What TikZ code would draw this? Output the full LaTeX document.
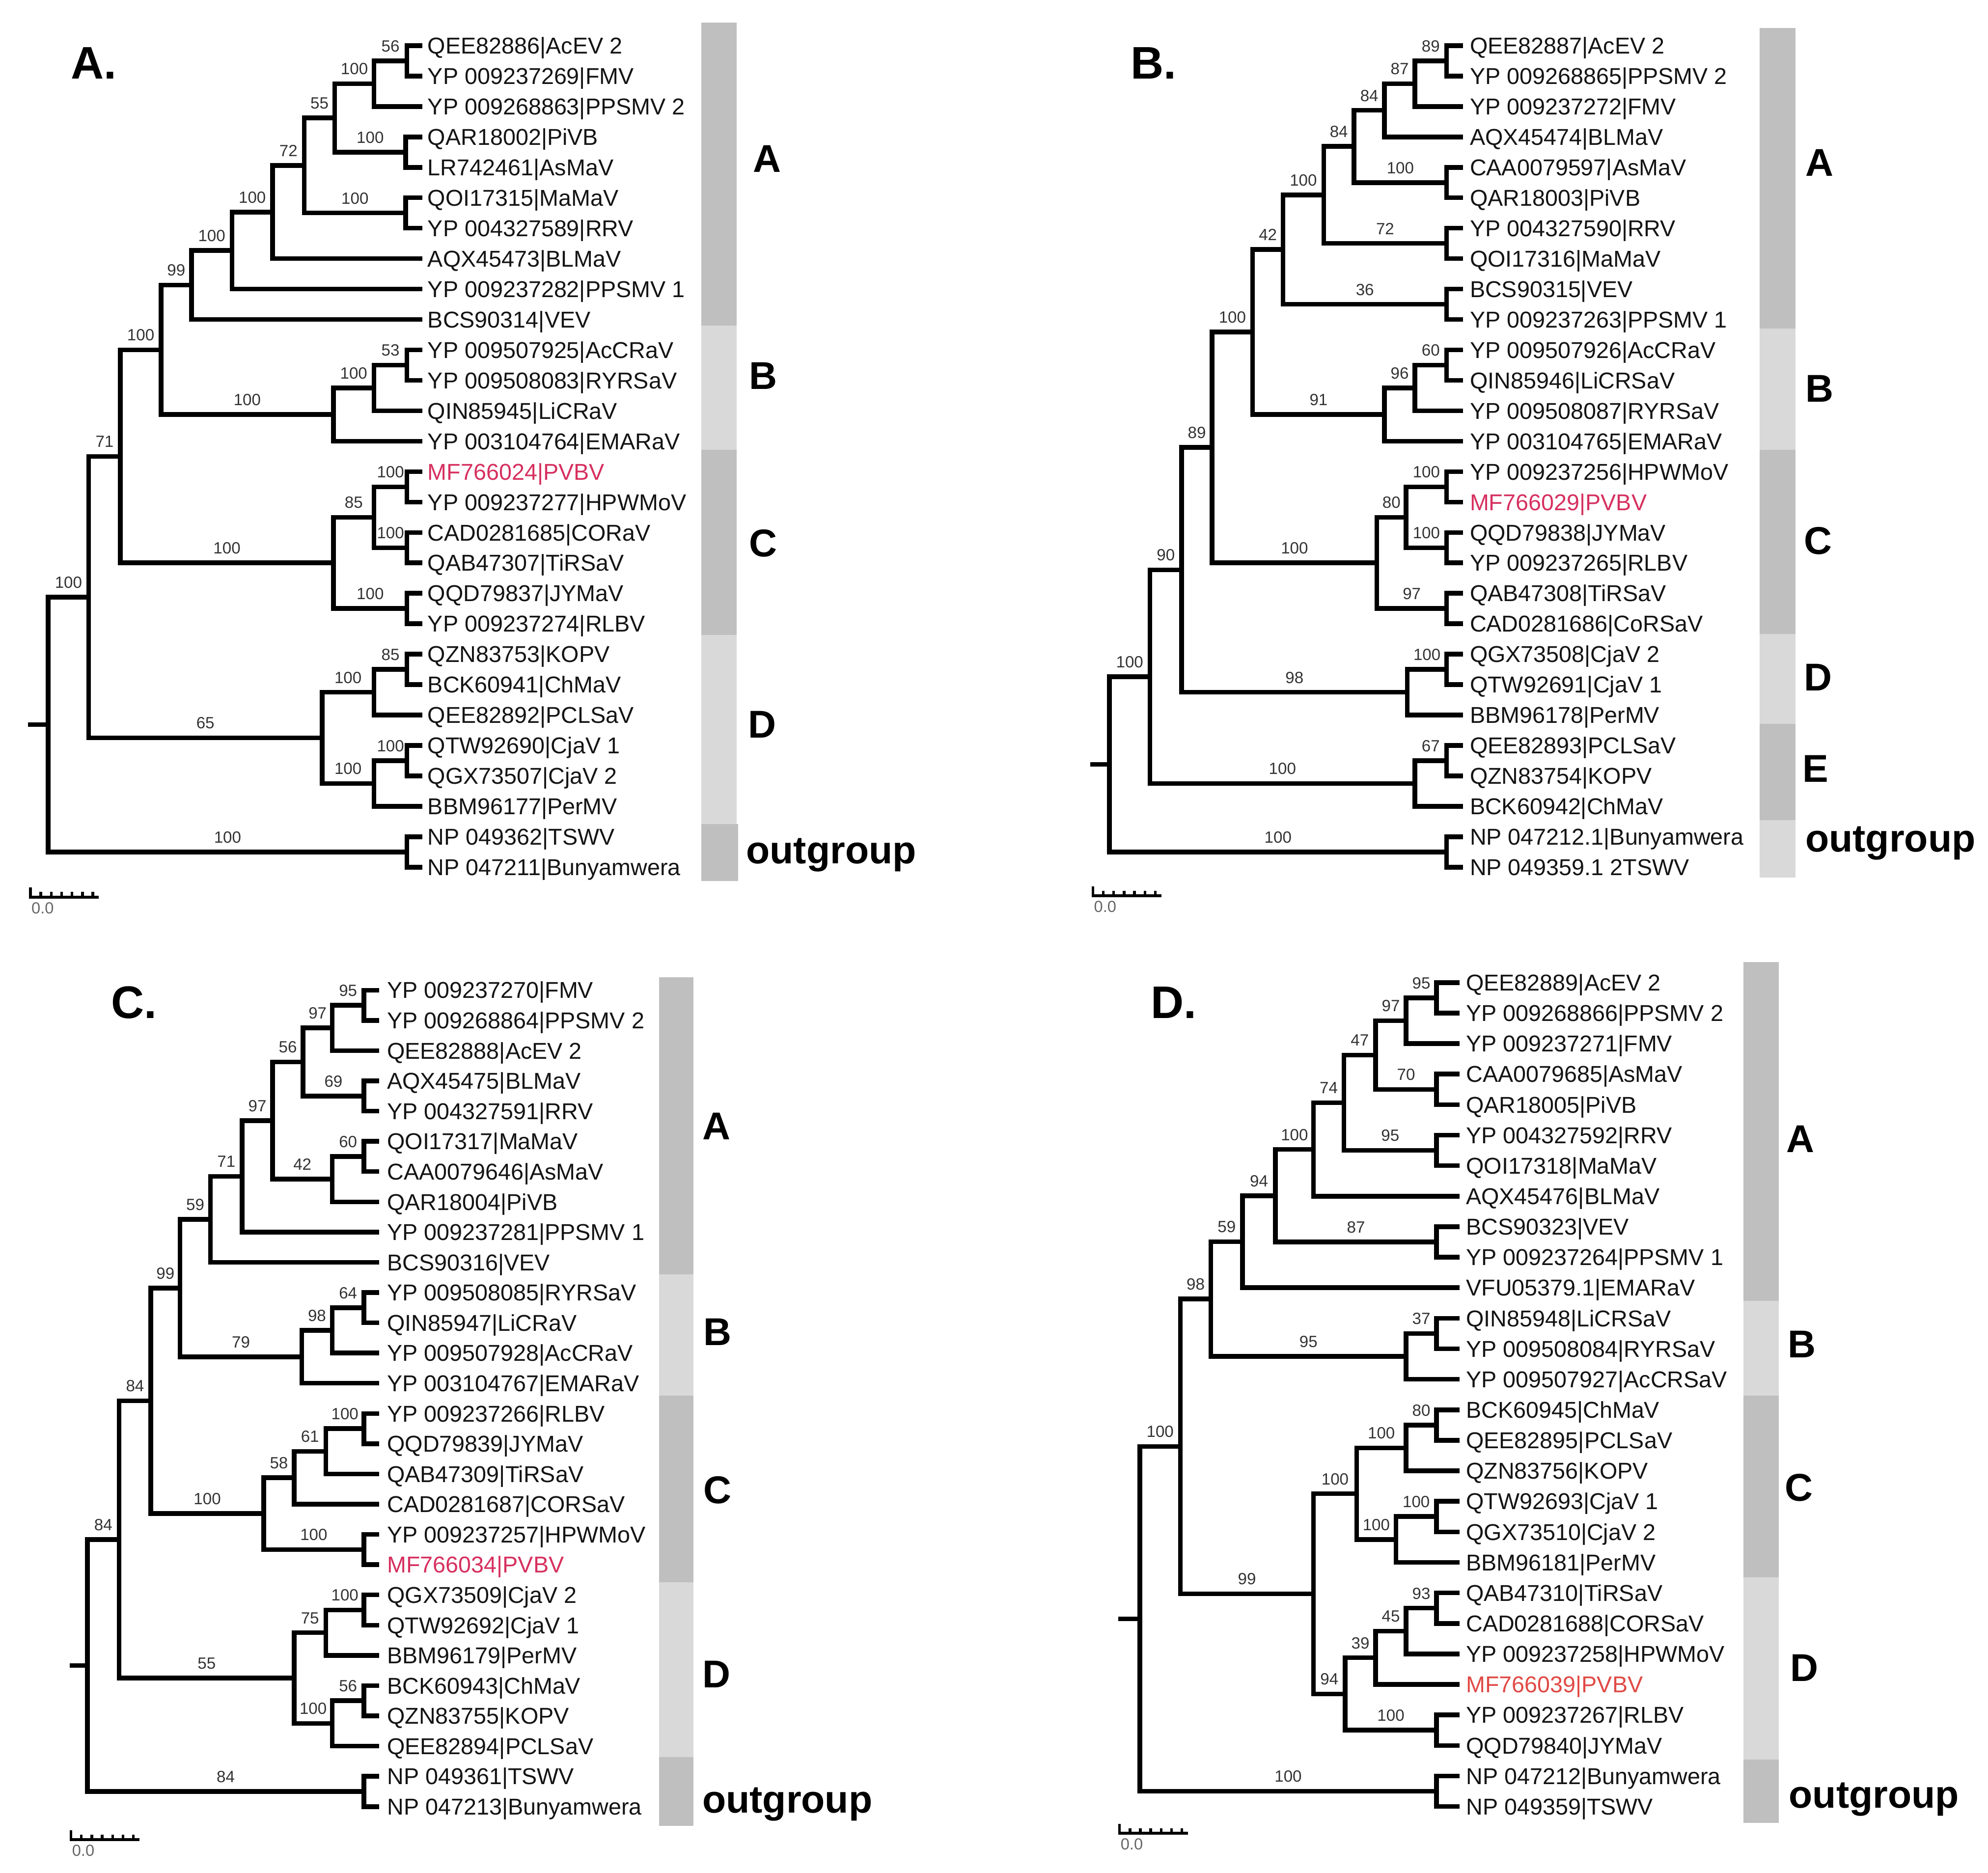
\documentclass[tikz,border=0pt]{standalone}
\usepackage{fontspec}
\setmainfont{Liberation Sans}
\usetikzlibrary{calc}
\definecolor{dkbar}{HTML}{BFBFBF}
\definecolor{ltbar}{HTML}{D9D9D9}
\definecolor{pvb}{HTML}{D6305F}
\definecolor{pvbd}{HTML}{E04A45}
\definecolor{txt}{HTML}{141414}
\definecolor{bsc}{HTML}{333333}
\newcommand\lf[3]{%
  \pgfmathsetmacro\yy{\yz+\dy*(#2-1)}%
  \coordinate (#1) at (\tipx,\yy);%
  \node[leaf] (#1t) at (\txtx,\yy) {#3};}
\newcommand\cl[4]{%
  \coordinate (#1m) at ($(#3)!0.5!(#4)$);%
  \coordinate (#1x) at (#2,0);%
  \coordinate (#1) at (#1m -| #1x);%
  \draw[br] (#3) -| (#1) |- (#4);}
\newcommand\bs[3]{\node[bsl] (#1s) at ($(#1 -| #2)!0.5!(#1)$) {#3};}
\newcommand\rootstem[3]{%
  \coordinate (#1x) at (#2,0);%
  \coordinate (#1) at (#3 -| #1x);%
  \draw[br] (#1) -- (#3);}
\newcommand\scalebar[4]{% name, x0, y line, ticks spacing
  \draw[sbar] (#2,#3) -- ++(55,0);
  \draw[sbar] (#2+1,#3) -- ++(0,-7.5);
  \foreach \k in {1,...,6}{\draw[sbar] (#2+1+#4*\k,#3) -- ++(0,-4);}
  \node[sblab] (#1) at (#2+1.5,#3+13) {0.0};}
\begin{document}
\begin{tikzpicture}[x=0.02cm,y=-0.02cm,
  br/.style={line width=2.1pt, black},
  leaf/.style={anchor=west, inner sep=0pt, font=\fontsize{10.3}{12}\selectfont, text=txt, text height=7.37pt, text depth=0pt},
  bsl/.style={anchor=base, inner sep=0pt, font=\fontsize{7.3}{8}\selectfont, text=bsc, yshift=0.144cm},
  grp/.style={inner sep=0pt, font=\fontsize{17.4}{20}\selectfont\bfseries, text height=12.46pt, text depth=0pt},
  ogrp/.style={anchor=base, inner sep=0pt, font=\fontsize{17.4}{20}\selectfont\bfseries},
  ttl/.style={anchor=base west, inner sep=0pt, font=\fontsize{20.5}{24}\selectfont\bfseries},
  sbar/.style={line width=1.2pt, black},
  sblab/.style={anchor=base west, inner sep=0pt, font=\fontsize{7.2}{8}\selectfont, text=black!60},
]
\useasboundingbox (0,0) rectangle (1568,1477);

% ================= Panel A =================
\node[ttl] (tA) at (55.5,62) {A.};
\fill[dkbar] (553,18) rectangle (581,257);
\fill[ltbar] (553,257) rectangle (581,355);
\fill[dkbar] (553,355) rectangle (581,501);
\fill[ltbar] (553,501) rectangle (581,650);
\fill[dkbar] (553,650) rectangle (582,695);
\node[grp] (aGA) at (605,125) {A};
\node[grp] (aGB) at (602,296) {B};
\node[grp] (aGC) at (602,428) {C};
\node[grp] (aGD) at (601,571) {D};
\node[ogrp] (aGO) at (655.6,681) {outgroup};

\def\tipx{333}\def\txtx{337}\def\yz{36}\def\dy{24}
\lf{a1}{1}{QEE82886|AcEV 2}
\lf{a2}{2}{YP 009237269|FMV}
\lf{a3}{3}{YP 009268863|PPSMV 2}
\lf{a4}{4}{QAR18002|PiVB}
\lf{a5}{5}{LR742461|AsMaV}
\lf{a6}{6}{QOI17315|MaMaV}
\lf{a7}{7}{YP 004327589|RRV}
\lf{a8}{8}{AQX45473|BLMaV}
\lf{a9}{9}{YP 009237282|PPSMV 1}
\lf{a10}{10}{BCS90314|VEV}
\lf{a11}{11}{YP 009507925|AcCRaV}
\lf{a12}{12}{YP 009508083|RYRSaV}
\lf{a13}{13}{QIN85945|LiCRaV}
\lf{a14}{14}{YP 003104764|EMARaV}
\lf{a15}{15}{\color{pvb}MF766024|PVBV}
\lf{a16}{16}{YP 009237277|HPWMoV}
\lf{a17}{17}{CAD0281685|CORaV}
\lf{a18}{18}{QAB47307|TiRSaV}
\lf{a19}{19}{QQD79837|JYMaV}
\lf{a20}{20}{YP 009237274|RLBV}
\lf{a21}{21}{QZN83753|KOPV}
\lf{a22}{22}{BCK60941|ChMaV}
\lf{a23}{23}{QEE82892|PCLSaV}
\lf{a24}{24}{QTW92690|CjaV 1}
\lf{a25}{25}{QGX73507|CjaV 2}
\lf{a26}{26}{BBM96177|PerMV}
\lf{a27}{27}{NP 049362|TSWV}
\lf{a28}{28}{NP 047211|Bunyamwera}

\cl{a1to2}{321}{a1}{a2}
\cl{a1to3}{295}{a1to2}{a3}
\cl{a4to5}{320}{a4}{a5}
\cl{a1to5}{264}{a1to3}{a4to5}
\cl{a6to7}{320}{a6}{a7}
\cl{a1to7}{240}{a1to5}{a6to7}
\cl{a1to8}{215}{a1to7}{a8}
\cl{a1to9}{183}{a1to8}{a9}
\cl{a1to10}{151}{a1to9}{a10}
\cl{a11to12}{321}{a11}{a12}
\cl{a11to13}{295}{a11to12}{a13}
\cl{a11to14}{263}{a11to13}{a14}
\cl{a1to14}{127}{a1to10}{a11to14}
\cl{a15to16}{321}{a15}{a16}
\cl{a17to18}{321}{a17}{a18}
\cl{a15to18}{295}{a15to16}{a17to18}
\cl{a19to20}{321}{a19}{a20}
\cl{a15to20}{263}{a15to18}{a19to20}
\cl{a1to20}{95}{a1to14}{a15to20}
\cl{a21to22}{321}{a21}{a22}
\cl{a21to23}{295}{a21to22}{a23}
\cl{a24to25}{321}{a24}{a25}
\cl{a24to26}{295}{a24to25}{a26}
\cl{a21to26}{254}{a21to23}{a24to26}
\cl{a1to26}{70}{a1to20}{a21to26}
\cl{a27to28}{321}{a27}{a28}
\cl{a1to28}{38}{a1to26}{a27to28}
\rootstem{aR}{22}{a1to28}

\bs{a1to2}{a1to3}{56}
\bs{a1to3}{a1to5}{100}
\bs{a4to5}{a1to5}{100}
\bs{a1to5}{a1to7}{55}
\bs{a6to7}{a1to7}{100}
\bs{a1to7}{a1to8}{72}
\bs{a1to8}{a1to9}{100}
\bs{a1to9}{a1to10}{100}
\bs{a1to10}{a1to14}{99}
\bs{a11to12}{a11to13}{53}
\bs{a11to13}{a11to14}{100}
\bs{a11to14}{a1to14}{100}
\bs{a1to14}{a1to20}{100}
\bs{a15to16}{a15to18}{100}
\bs{a17to18}{a15to18}{100}
\bs{a15to18}{a15to20}{85}
\bs{a19to20}{a15to20}{100}
\bs{a15to20}{a1to20}{100}
\bs{a1to20}{a1to26}{71}
\bs{a21to22}{a21to23}{85}
\bs{a21to23}{a21to26}{100}
\bs{a24to25}{a24to26}{100}
\bs{a24to26}{a21to26}{100}
\bs{a21to26}{a1to26}{65}
\bs{a1to26}{a1to28}{100}
\bs{a27to28}{a1to28}{100}
\scalebar{aS}{23}{707.6}{8.2}

% ================= Panel B =================
\node[ttl] (tB) at (891.5,62) {B.};
\fill[dkbar] (1388,22) rectangle (1416,259);
\fill[ltbar] (1388,259) rectangle (1416,355);
\fill[dkbar] (1388,355) rectangle (1416,500);
\fill[ltbar] (1388,500) rectangle (1416,571);
\fill[dkbar] (1388,571) rectangle (1416,647);
\fill[ltbar] (1388,647) rectangle (1416,692);
\node[grp] (bGA) at (1435,128) {A};
\node[grp] (bGB) at (1435,306) {B};
\node[grp] (bGC) at (1434,426) {C};
\node[grp] (bGD) at (1434,534) {D};
\node[grp] (bGE) at (1432,606) {E};
\node[ogrp] (bGO) at (1491,672) {outgroup};

\def\tipx{1154}\def\txtx{1159}\def\yz{36}\def\dy{24}
\lf{b1}{1}{QEE82887|AcEV 2}
\lf{b2}{2}{YP 009268865|PPSMV 2}
\lf{b3}{3}{YP 009237272|FMV}
\lf{b4}{4}{AQX45474|BLMaV}
\lf{b5}{5}{CAA0079597|AsMaV}
\lf{b6}{6}{QAR18003|PiVB}
\lf{b7}{7}{YP 004327590|RRV}
\lf{b8}{8}{QOI17316|MaMaV}
\lf{b9}{9}{BCS90315|VEV}
\lf{b10}{10}{YP 009237263|PPSMV 1}
\lf{b11}{11}{YP 009507926|AcCRaV}
\lf{b12}{12}{QIN85946|LiCRSaV}
\lf{b13}{13}{YP 009508087|RYRSaV}
\lf{b14}{14}{YP 003104765|EMARaV}
\lf{b15}{15}{YP 009237256|HPWMoV}
\lf{b16}{16}{\color{pvb}MF766029|PVBV}
\lf{b17}{17}{QQD79838|JYMaV}
\lf{b18}{18}{YP 009237265|RLBV}
\lf{b19}{19}{QAB47308|TiRSaV}
\lf{b20}{20}{CAD0281686|CoRSaV}
\lf{b21}{21}{QGX73508|CjaV 2}
\lf{b22}{22}{QTW92691|CjaV 1}
\lf{b23}{23}{BBM96178|PerMV}
\lf{b24}{24}{QEE82893|PCLSaV}
\lf{b25}{25}{QZN83754|KOPV}
\lf{b26}{26}{BCK60942|ChMaV}
\lf{b27}{27}{NP 047212.1|Bunyamwera}
\lf{b28}{28}{NP 049359.1 2TSWV}

\cl{b1to2}{1141}{b1}{b2}
\cl{b1to3}{1116}{b1to2}{b3}
\cl{b1to4}{1092}{b1to3}{b4}
\cl{b5to6}{1141}{b5}{b6}
\cl{b1to6}{1068}{b1to4}{b5to6}
\cl{b7to8}{1141}{b7}{b8}
\cl{b1to8}{1044}{b1to6}{b7to8}
\cl{b9to10}{1141}{b9}{b10}
\cl{b1to10}{1012}{b1to8}{b9to10}
\cl{b11to12}{1141}{b11}{b12}
\cl{b11to13}{1116}{b11to12}{b13}
\cl{b11to14}{1092}{b11to13}{b14}
\cl{b1to14}{988}{b1to10}{b11to14}
\cl{b15to16}{1141}{b15}{b16}
\cl{b17to18}{1141}{b17}{b18}
\cl{b15to18}{1109}{b15to16}{b17to18}
\cl{b19to20}{1141}{b19}{b20}
\cl{b15to20}{1086}{b15to18}{b19to20}
\cl{b1to20}{956}{b1to14}{b15to20}
\cl{b21to22}{1141}{b21}{b22}
\cl{b21to23}{1110}{b21to22}{b23}
\cl{b1to23}{932}{b1to20}{b21to23}
\cl{b24to25}{1141}{b24}{b25}
\cl{b24to26}{1116}{b24to25}{b26}
\cl{b1to26}{907}{b1to23}{b24to26}
\cl{b27to28}{1141}{b27}{b28}
\cl{b1to28}{875}{b1to26}{b27to28}
\rootstem{bR}{860}{b1to28}

\bs{b1to2}{b1to3}{89}
\bs{b1to3}{b1to4}{87}
\bs{b1to4}{b1to6}{84}
\bs{b5to6}{b1to6}{100}
\bs{b1to6}{b1to8}{84}
\bs{b7to8}{b1to8}{72}
\bs{b1to8}{b1to10}{100}
\bs{b9to10}{b1to10}{36}
\bs{b1to10}{b1to14}{42}
\bs{b11to12}{b11to13}{60}
\bs{b11to13}{b11to14}{96}
\bs{b11to14}{b1to14}{91}
\bs{b1to14}{b1to20}{100}
\bs{b15to16}{b15to18}{100}
\bs{b17to18}{b15to18}{100}
\bs{b15to18}{b15to20}{80}
\bs{b19to20}{b15to20}{97}
\bs{b15to20}{b1to20}{100}
\bs{b1to20}{b1to23}{89}
\bs{b21to22}{b21to23}{100}
\bs{b21to23}{b1to23}{98}
\bs{b1to23}{b1to26}{90}
\bs{b24to25}{b24to26}{67}
\bs{b24to26}{b1to26}{100}
\bs{b1to26}{b1to28}{100}
\bs{b27to28}{b1to28}{100}
\scalebar{bS}{861}{706.5}{8.2}

% ================= Panel C =================
\node[ttl] (tC) at (87.4,803) {C.};
\fill[dkbar] (520,771) rectangle (547,1005);
\fill[ltbar] (520,1005) rectangle (547,1101);
\fill[dkbar] (520,1101) rectangle (547,1248);
\fill[ltbar] (520,1248) rectangle (547,1386);
\fill[dkbar] (520,1386) rectangle (547,1440);
\node[grp] (cGA) at (565,888) {A};
\node[grp] (cGB) at (566,1050) {B};
\node[grp] (cGC) at (566,1175) {C};
\node[grp] (cGD) at (565,1320) {D};
\node[ogrp] (cGO) at (621,1430) {outgroup};

\def\tipx{299}\def\txtx{305}\def\yz{781}\def\dy{23.85}
\lf{c1}{1}{YP 009237270|FMV}
\lf{c2}{2}{YP 009268864|PPSMV 2}
\lf{c3}{3}{QEE82888|AcEV 2}
\lf{c4}{4}{AQX45475|BLMaV}
\lf{c5}{5}{YP 004327591|RRV}
\lf{c6}{6}{QOI17317|MaMaV}
\lf{c7}{7}{CAA0079646|AsMaV}
\lf{c8}{8}{QAR18004|PiVB}
\lf{c9}{9}{YP 009237281|PPSMV 1}
\lf{c10}{10}{BCS90316|VEV}
\lf{c11}{11}{YP 009508085|RYRSaV}
\lf{c12}{12}{QIN85947|LiCRaV}
\lf{c13}{13}{YP 009507928|AcCRaV}
\lf{c14}{14}{YP 003104767|EMARaV}
\lf{c15}{15}{YP 009237266|RLBV}
\lf{c16}{16}{QQD79839|JYMaV}
\lf{c17}{17}{QAB47309|TiRSaV}
\lf{c18}{18}{CAD0281687|CORSaV}
\lf{c19}{19}{YP 009237257|HPWMoV}
\lf{c20}{20}{\color{pvb}MF766034|PVBV}
\lf{c21}{21}{QGX73509|CjaV 2}
\lf{c22}{22}{QTW92692|CjaV 1}
\lf{c23}{23}{BBM96179|PerMV}
\lf{c24}{24}{BCK60943|ChMaV}
\lf{c25}{25}{QZN83755|KOPV}
\lf{c26}{26}{QEE82894|PCLSaV}
\lf{c27}{27}{NP 049361|TSWV}
\lf{c28}{28}{NP 047213|Bunyamwera}

\cl{c1to2}{287}{c1}{c2}
\cl{c1to3}{262}{c1to2}{c3}
\cl{c4to5}{287}{c4}{c5}
\cl{c1to5}{239}{c1to3}{c4to5}
\cl{c6to7}{287}{c6}{c7}
\cl{c6to8}{262}{c6to7}{c8}
\cl{c1to8}{215}{c1to5}{c6to8}
\cl{c1to9}{191}{c1to8}{c9}
\cl{c1to10}{166}{c1to9}{c10}
\cl{c11to12}{287}{c11}{c12}
\cl{c11to13}{262}{c11to12}{c13}
\cl{c11to14}{238}{c11to13}{c14}
\cl{c1to14}{142}{c1to10}{c11to14}
\cl{c15to16}{287}{c15}{c16}
\cl{c15to17}{257}{c15to16}{c17}
\cl{c15to18}{232}{c15to17}{c18}
\cl{c19to20}{287}{c19}{c20}
\cl{c15to20}{208}{c15to18}{c19to20}
\cl{c1to20}{119}{c1to14}{c15to20}
\cl{c21to22}{287}{c21}{c22}
\cl{c21to23}{257}{c21to22}{c23}
\cl{c24to25}{287}{c24}{c25}
\cl{c24to26}{262}{c24to25}{c26}
\cl{c21to26}{232}{c21to23}{c24to26}
\cl{c1to26}{94}{c1to20}{c21to26}
\cl{c27to28}{287}{c27}{c28}
\cl{c1to28}{69}{c1to26}{c27to28}
\rootstem{cR}{55}{c1to28}

\bs{c1to2}{c1to3}{95}
\bs{c1to3}{c1to5}{97}
\bs{c4to5}{c1to5}{69}
\bs{c1to5}{c1to8}{56}
\bs{c6to7}{c6to8}{60}
\bs{c6to8}{c1to8}{42}
\bs{c1to8}{c1to9}{97}
\bs{c1to9}{c1to10}{71}
\bs{c1to10}{c1to14}{59}
\bs{c11to12}{c11to13}{64}
\bs{c11to13}{c11to14}{98}
\bs{c11to14}{c1to14}{79}
\bs{c1to14}{c1to20}{99}
\bs{c15to16}{c15to17}{100}
\bs{c15to17}{c15to18}{61}
\bs{c15to18}{c15to20}{58}
\bs{c19to20}{c15to20}{100}
\bs{c15to20}{c1to20}{100}
\bs{c1to20}{c1to26}{84}
\bs{c21to22}{c21to23}{100}
\bs{c21to23}{c21to26}{75}
\bs{c24to25}{c24to26}{56}
\bs{c24to26}{c21to26}{100}
\bs{c21to26}{c1to26}{55}
\bs{c1to26}{c1to28}{84}
\bs{c27to28}{c1to28}{84}
\scalebar{cS}{55}{1451}{8.2}

% ================= Panel D =================
\node[ttl] (tD) at (907.3,803) {D.};
\fill[dkbar] (1375,759) rectangle (1403,1026);
\fill[ltbar] (1375,1026) rectangle (1403,1101);
\fill[dkbar] (1375,1101) rectangle (1403,1244);
\fill[ltbar] (1375,1244) rectangle (1403,1388);
\fill[dkbar] (1375,1388) rectangle (1403,1438);
\node[grp] (dGA) at (1420,898) {A};
\node[grp] (dGB) at (1421,1060) {B};
\node[grp] (dGC) at (1419,1173) {C};
\node[grp] (dGD) at (1423,1315) {D};
\node[ogrp] (dGO) at (1478,1426) {outgroup};

\def\tipx{1151}\def\txtx{1156}\def\yz{775}\def\dy{24.07}
\lf{d1}{1}{QEE82889|AcEV 2}
\lf{d2}{2}{YP 009268866|PPSMV 2}
\lf{d3}{3}{YP 009237271|FMV}
\lf{d4}{4}{CAA0079685|AsMaV}
\lf{d5}{5}{QAR18005|PiVB}
\lf{d6}{6}{YP 004327592|RRV}
\lf{d7}{7}{QOI17318|MaMaV}
\lf{d8}{8}{AQX45476|BLMaV}
\lf{d9}{9}{BCS90323|VEV}
\lf{d10}{10}{YP 009237264|PPSMV 1}
\lf{d11}{11}{VFU05379.1|EMARaV}
\lf{d12}{12}{QIN85948|LiCRSaV}
\lf{d13}{13}{YP 009508084|RYRSaV}
\lf{d14}{14}{YP 009507927|AcCRSaV}
\lf{d15}{15}{BCK60945|ChMaV}
\lf{d16}{16}{QEE82895|PCLSaV}
\lf{d17}{17}{QZN83756|KOPV}
\lf{d18}{18}{QTW92693|CjaV 1}
\lf{d19}{19}{QGX73510|CjaV 2}
\lf{d20}{20}{BBM96181|PerMV}
\lf{d21}{21}{QAB47310|TiRSaV}
\lf{d22}{22}{CAD0281688|CORSaV}
\lf{d23}{23}{YP 009237258|HPWMoV}
\lf{d24}{24}{\color{pvbd}MF766039|PVBV}
\lf{d25}{25}{YP 009237267|RLBV}
\lf{d26}{26}{QQD79840|JYMaV}
\lf{d27}{27}{NP 047212|Bunyamwera}
\lf{d28}{28}{NP 049359|TSWV}

\cl{d1to2}{1133}{d1}{d2}
\cl{d1to3}{1109}{d1to2}{d3}
\cl{d4to5}{1133}{d4}{d5}
\cl{d1to5}{1085}{d1to3}{d4to5}
\cl{d6to7}{1133}{d6}{d7}
\cl{d1to7}{1060}{d1to5}{d6to7}
\cl{d1to8}{1036}{d1to7}{d8}
\cl{d9to10}{1133}{d9}{d10}
\cl{d1to10}{1006}{d1to8}{d9to10}
\cl{d1to11}{980}{d1to10}{d11}
\cl{d12to13}{1133}{d12}{d13}
\cl{d12to14}{1109}{d12to13}{d14}
\cl{d1to14}{955}{d1to11}{d12to14}
\cl{d15to16}{1133}{d15}{d16}
\cl{d15to17}{1109}{d15to16}{d17}
\cl{d18to19}{1133}{d18}{d19}
\cl{d18to20}{1101}{d18to19}{d20}
\cl{d15to20}{1070}{d15to17}{d18to20}
\cl{d21to22}{1133}{d21}{d22}
\cl{d21to23}{1109}{d21to22}{d23}
\cl{d21to24}{1085}{d21to23}{d24}
\cl{d25to26}{1133}{d25}{d26}
\cl{d21to26}{1061}{d21to24}{d25to26}
\cl{d15to26}{1036}{d15to20}{d21to26}
\cl{d1to26}{931}{d1to14}{d15to26}
\cl{d27to28}{1133}{d27}{d28}
\cl{d1to28}{899}{d1to26}{d27to28}
\rootstem{dR}{882}{d1to28}

\bs{d1to2}{d1to3}{95}
\bs{d1to3}{d1to5}{97}
\bs{d4to5}{d1to5}{70}
\bs{d1to5}{d1to7}{47}
\bs{d6to7}{d1to7}{95}
\bs{d1to7}{d1to8}{74}
\bs{d1to8}{d1to10}{100}
\bs{d9to10}{d1to10}{87}
\bs{d1to10}{d1to11}{94}
\bs{d1to11}{d1to14}{59}
\bs{d12to13}{d12to14}{37}
\bs{d12to14}{d1to14}{95}
\bs{d1to14}{d1to26}{98}
\bs{d15to16}{d15to17}{80}
\bs{d15to17}{d15to20}{100}
\bs{d18to19}{d18to20}{100}
\bs{d18to20}{d15to20}{100}
\bs{d15to20}{d15to26}{100}
\bs{d21to22}{d21to23}{93}
\bs{d21to23}{d21to24}{45}
\bs{d21to24}{d21to26}{39}
\bs{d25to26}{d21to26}{100}
\bs{d21to26}{d15to26}{94}
\bs{d15to26}{d1to26}{99}
\bs{d1to26}{d1to28}{100}
\bs{d27to28}{d1to28}{100}
\scalebar{dS}{882}{1446}{8.2}
\end{tikzpicture}
\end{document}
